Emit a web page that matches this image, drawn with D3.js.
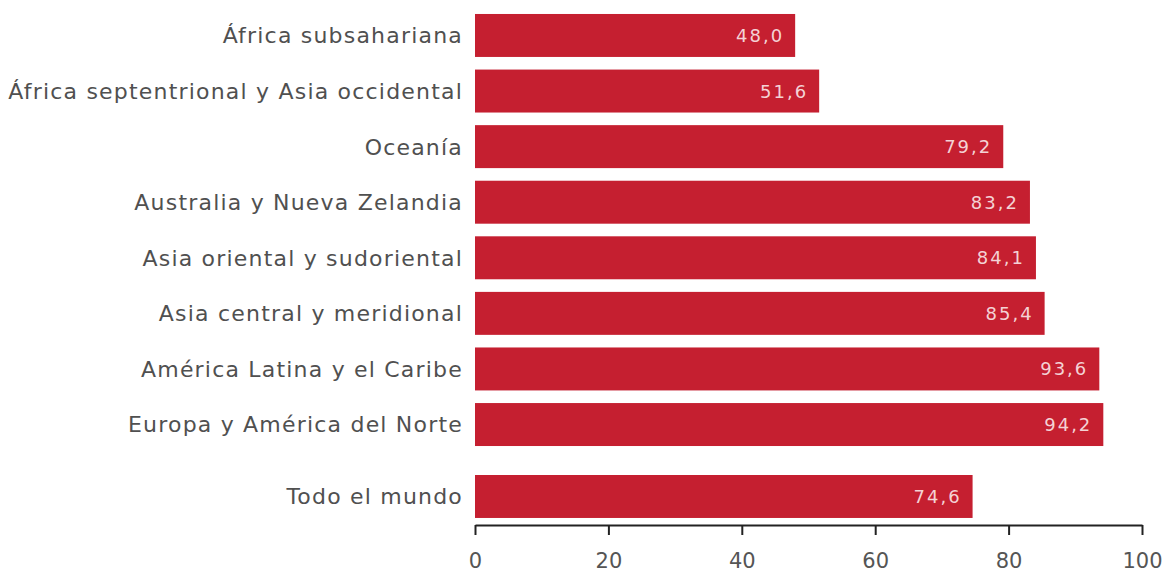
<!DOCTYPE html>
<html><head><meta charset="utf-8">
<script src="https://cdn.jsdelivr.net/npm/d3@7"></script>
<style>body{margin:0;background:#fff;} svg{display:block;}</style>
</head><body>
<svg id="c" width="1162" height="575"></svg>
<script>
const regions = ["África subsahariana","África septentrional y Asia occidental","Oceanía","Australia y Nueva Zelandia","Asia oriental y sudoriental","Asia central y meridional","América Latina y el Caribe","Europa y América del Norte"];
const values = [48.0,51.6,79.2,83.2,84.1,85.4,93.6,94.2];
const worldLabel = ["Todo el mundo"];
const worldValue = [74.6];
const xTicks = [0,20,40,60,80,100];

const svg = d3.select("#c");
const x = d3.scaleLinear().domain([0,100]).range([475,1142]);
const y = d3.scaleBand().domain(regions).range([7.7,452.3]).paddingInner(0.227).paddingOuter(0.113);
const worldY = 475;
const bh = y.bandwidth();
const barColor = "#c51f30";
const font = "'DejaVu Sans', sans-serif";

const data = regions.map((r,i)=>({name:r,v:values[i],y:y(r)}))
  .concat(worldLabel.map((r,i)=>({name:r,v:worldValue[i],y:worldY})));

const fmt = v => v.toFixed(1).replace(".",",");

svg.selectAll("rect.bar").data(data).join("rect").attr("class","bar")
  .attr("x",x(0)).attr("y",d=>d.y).attr("width",d=>x(d.v)-x(0)).attr("height",bh)
  .attr("fill",barColor);

svg.selectAll("text.val").data(data).join("text").attr("class","val")
  .attr("x",d=>x(d.v)-11).attr("y",d=>d.y+bh/2).attr("dy","0.36em")
  .attr("text-anchor","end").attr("fill","#f4d2d5").attr("font-family",font)
  .attr("font-size",18).attr("letter-spacing",2).text(d=>fmt(d.v));

svg.selectAll("text.lab").data(data).join("text").attr("class","lab")
  .attr("x",463).attr("y",d=>d.y+bh/2).attr("dy","0.36em")
  .attr("text-anchor","end").attr("fill","#505050").attr("font-family",font)
  .attr("font-size",22).attr("letter-spacing",1.2).text(d=>d.name);

const axis = d3.axisBottom(x).tickValues(xTicks).tickSize(10).tickSizeOuter(0).tickFormat(d3.format("d"));
const g = svg.append("g").attr("transform","translate(0,525)").call(axis);
g.select(".domain").attr("stroke","#222").attr("stroke-width",2);
g.selectAll(".tick line").attr("stroke","#222").attr("stroke-width",2);
g.selectAll(".tick text").attr("font-family",font).attr("font-size",21).attr("fill","#555").attr("y",28);
</script>
</body></html>
